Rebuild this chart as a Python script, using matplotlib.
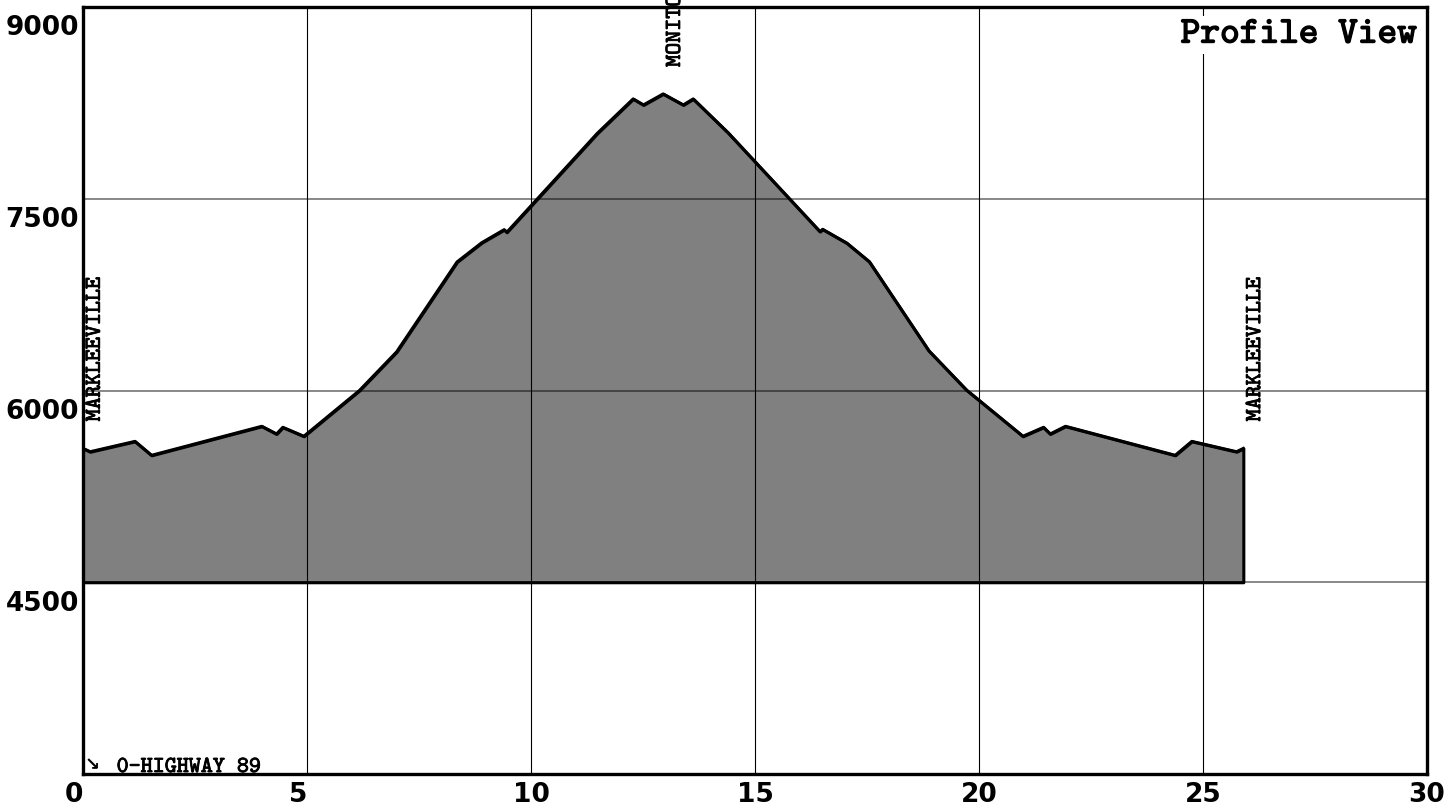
import matplotlib
matplotlib.use("Agg")
import matplotlib.pyplot as plt
import matplotlib.transforms as mtransforms
import matplotlib.patheffects as pe

# route profile: distance (mi) and elevation (ft)
dist = [0.0, 0.16, 1.16, 1.53, 3.99, 4.32, 4.46, 4.93, 6.17, 7.0, 8.35, 8.9,
        9.40, 9.46, 11.48, 12.28, 12.51, 12.95, 13.40, 13.62, 14.40, 16.45,
        16.51, 17.05, 17.55, 18.88, 19.72, 20.98, 21.44, 21.59, 21.93, 24.38,
        24.75, 25.75, 25.9]
elev = [5547, 5521, 5602, 5493, 5720, 5660, 5712, 5642, 6000, 6302, 7006, 7156,
        7258, 7238, 8012, 8281, 8234, 8320, 8234, 8281, 8016, 7243,
        7261, 7153, 7008, 6311, 6004, 5642, 5712, 5660, 5720, 5493,
        5602, 5521, 5547]
base_elev = 4500

places = ["MARKLEEVILLE", "MONITOR PASS", "MARKLEEVILLE"]
place_dist = [0.0, 12.95, 25.9]
place_elev = [5547, 8320, 5547]

xticks = [0, 5, 10, 15, 20, 25, 30]
yticks = [4500, 6000, 7500, 9000]

fig = plt.figure(figsize=(14.56, 8.07), dpi=100)
ax = fig.add_axes([83 / 1456, 33 / 807, 1344 / 1456, 767 / 807])

ax.fill_between(dist, elev, base_elev, facecolor="#808080", edgecolor="black",
                linewidth=2.2, zorder=1)
ax.plot(dist, elev, color="black", linewidth=2.2, zorder=4)

for x in xticks[1:-1]:
    ax.axvline(x, color="black", linewidth=0.8, zorder=2)
for y in yticks[:-1]:
    ax.axhline(y, color="black", alpha=0.5, linewidth=1.3, zorder=2)

ax.set_xlim(0, 30)
ax.set_ylim(3000, 9000)
for s in ax.spines.values():
    s.set_linewidth(2.4)
    s.set_zorder(5)

tick_font = dict(family="DejaVu Sans", weight="bold", size=19)
ax.set_xticks(xticks)
ax.set_xticklabels([(str(v) + "\u2007") if v < 10 else str(v) for v in xticks],
                   **tick_font)
ax.set_yticks(yticks)
ax.set_yticklabels([str(v) for v in yticks], **tick_font)
ax.tick_params(length=0)
ax.tick_params(axis="x", pad=6)
ax.tick_params(axis="y", pad=3)
shift = mtransforms.ScaledTranslation(0, -6 / 72, fig.dpi_scale_trans)
for lab in ax.get_yticklabels():
    lab.set_verticalalignment("top")
    lab.set_transform(lab.get_transform() + shift)

label_font = dict(family="cmtt10", size=16.5,
                  path_effects=[pe.withStroke(linewidth=0.6, foreground="black")])
for name, x, y in zip(places, place_dist, place_elev):
    ax.annotate(name, (x, y), xytext=(2, 19.5), textcoords="offset points",
                rotation=90, ha="left", va="bottom", zorder=6, **label_font)

ax.text(0.9925, 0.985, "Profile View", transform=ax.transAxes, ha="right",
        va="top", family="cmtt10", size=27, zorder=6,
        path_effects=[pe.withStroke(linewidth=1.0, foreground="black")],
        bbox=dict(facecolor="white", edgecolor="none", pad=2))

ax.text(0.001, 0.0, "\u2198", transform=ax.transAxes, ha="left",
        va="bottom", family="DejaVu Sans", weight="bold", size=13, zorder=6)
ax.text(0.025, 0.0026, "0-HIGHWAY 89", transform=ax.transAxes, ha="left",
        va="baseline", zorder=6, **label_font)

fig.savefig("out.png", dpi=100)
